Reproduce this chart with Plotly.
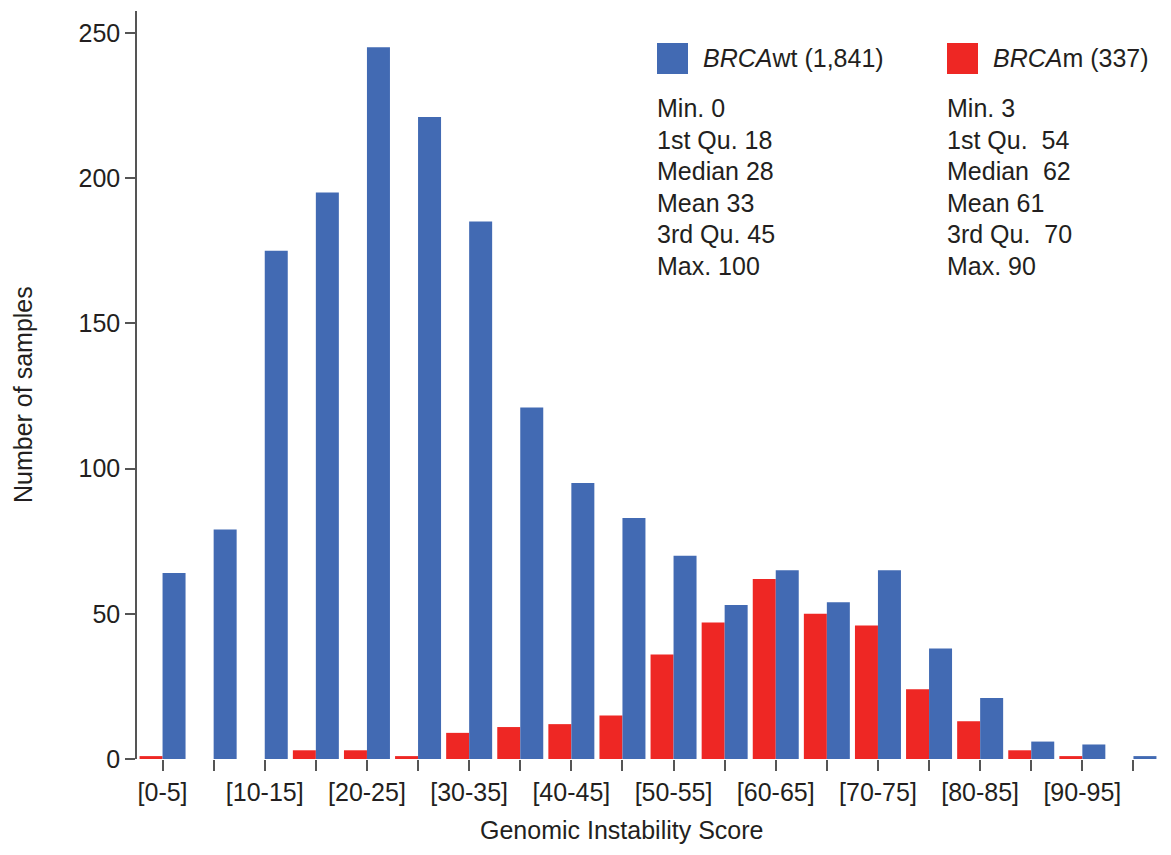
import plotly.graph_objects as go

# ---- data ----
categories = ["[0-5]", "[5-10]", "[10-15]", "[15-20]", "[20-25]", "[25-30]", "[30-35]",
              "[35-40]", "[40-45]", "[45-50]", "[50-55]", "[55-60]", "[60-65]", "[65-70]",
              "[70-75]", "[75-80]", "[80-85]", "[85-90]", "[90-95]", "[95-100]"]
brca_wt = [64, 79, 175, 195, 245, 221, 185, 121, 95, 83, 70, 53, 65, 54, 65, 38, 21, 6, 5, 1]
brca_m = [1, 0, 0, 3, 3, 1, 9, 11, 12, 15, 36, 47, 62, 50, 46, 24, 13, 3, 1, 0]
tick_labels = [c if i % 2 == 0 else "" for i, c in enumerate(categories)]
y_ticks = [0, 50, 100, 150, 200, 250]

stat_names = ["Min.", "1st Qu.", "Median", "Mean", "3rd Qu.", "Max."]
wt_stats = ["0", "18", "28", "33", "45", "100"]
m_stats = ["3", "\u00a054", "\u00a062", "61", "\u00a070", "90"]

wt_label = "<i>BRCA</i>wt (1,841)"
m_label = "<i>BRCA</i>m (337)"
x_title = "Genomic Instability Score"
y_title = "Number of samples"

BLUE = "#426AB3"
RED = "#EE2724"
TXT = "#231f20"
FONT = "Liberation Sans, Arial, Helvetica, sans-serif"
FS = 25

fig = go.Figure()
fig.add_trace(go.Bar(x=categories, y=brca_m, marker=dict(color=RED, line=dict(width=0)),
                     name="BRCAm", showlegend=False))
fig.add_trace(go.Bar(x=categories, y=brca_wt, marker=dict(color=BLUE, line=dict(width=0)),
                     name="BRCAwt", showlegend=False))

OFF = 8  # page body margin
W, H = 1155, 839
ml, mr, mt, mb = 129, 4, 3, 88
pw, ph = W - ml - mr, H - mt - mb


def px(x):
    return (x - OFF - ml) / pw


def py(y):
    return 1 - (y - OFF - mt) / ph


shapes = []
annotations = []
for x0, col, lab, stats in [(657, BLUE, wt_label, wt_stats), (947, RED, m_label, m_stats)]:
    shapes.append(dict(type="rect", xref="paper", yref="paper",
                       x0=px(x0), x1=px(x0 + 31), y0=py(74), y1=py(43),
                       fillcolor=col, line=dict(width=0)))
    annotations.append(dict(xref="paper", yref="paper", x=px(x0 + 44), y=py(58),
                            xanchor="left", yanchor="middle", text=lab, showarrow=False,
                            font=dict(size=FS, color=TXT, family=FONT)))
    for i, (n, v) in enumerate(zip(stat_names, stats)):
        annotations.append(dict(xref="paper", yref="paper", x=px(x0 - 2), y=py(108 + 31.6 * i),
                                xanchor="left", yanchor="middle", text=f"{n} {v}",
                                showarrow=False,
                                font=dict(size=FS, color=TXT, family=FONT)))

annotations.append(dict(xref="paper", yref="paper", x=px(621), y=py(830),
                        xanchor="center", yanchor="middle", text=x_title, showarrow=False,
                        font=dict(size=FS, color=TXT, family=FONT)))
annotations.append(dict(xref="paper", yref="paper", x=px(23), y=py(395),
                        xanchor="center", yanchor="middle", text=y_title, showarrow=False,
                        textangle=-90,
                        font=dict(size=FS, color=TXT, family=FONT)))

fig.update_layout(
    width=W, height=H,
    margin=dict(l=ml, r=mr, t=mt, b=mb, pad=0),
    plot_bgcolor="white", paper_bgcolor="white",
    barmode="group", bargap=0.1, bargroupgap=0,
    font=dict(family=FONT, size=FS, color=TXT),
    shapes=shapes, annotations=annotations,
    xaxis=dict(
        type="category", categoryorder="array", categoryarray=categories,
        tickmode="array", tickvals=categories, ticktext=tick_labels,
        ticks="outside", ticklen=11, tickwidth=1.5, tickcolor="#555555",
        showline=False, showgrid=False, zeroline=False,
        tickfont=dict(size=FS, color=TXT),
        range=[-0.5, 19.5],
    ),
    yaxis=dict(
        range=[0, 257.5], tickmode="array", tickvals=y_ticks,
        ticks="outside", ticklen=10, tickwidth=1.5, tickcolor="#555555",
        showline=True, linecolor="#555555", linewidth=1.5,
        showgrid=False, zeroline=False,
        tickfont=dict(size=FS, color=TXT),
    ),
)

fig.write_html("out.html")
